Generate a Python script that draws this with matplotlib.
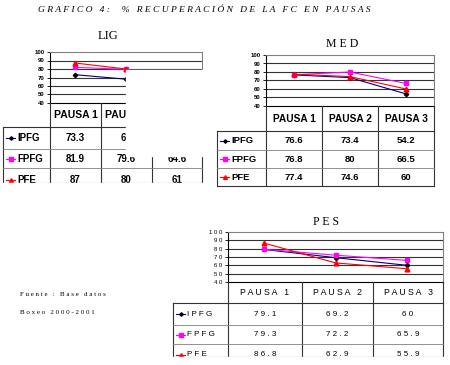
import numpy as np
import matplotlib
matplotlib.use('Agg')
import matplotlib.pyplot as plt
from matplotlib.patches import Rectangle

W, H = 450, 365

pausas = ['PAUSA 1', 'PAUSA 2', 'PAUSA 3']
series = ['IPFG', 'FPFG', 'PFE']
yticks = [40, 50, 60, 70, 80, 90, 100]

# LIG (the IPFG cell of pausa 3 is cut off in the source)
lig_ipfg = [73.3, 68, np.nan]
lig_fpfg = [81.9, 79.6, 64.6]
lig_pfe = [87, 80, 61]

med_ipfg = [76.6, 73.4, 54.2]
med_fpfg = [76.8, 80, 66.5]
med_pfe = [77.4, 74.6, 60]

pes_ipfg = [79.1, 69.2, 60]
pes_fpfg = [79.3, 72.2, 65.9]
pes_pfe = [86.8, 62.9, 55.9]

line_col = {'IPFG': '#000080', 'FPFG': '#ff00ff', 'PFE': '#ff0000'}
mark = {'IPFG': ('D', '#000000', 2.2), 'FPFG': ('s', '#ff00ff', 3.4), 'PFE': ('^', '#ff0000', 3.4)}
grid_c = '#333333'
sans = 'Liberation Sans'
serif = 'Liberation Serif'

fig = plt.figure(figsize=(W/100, H/100), dpi=100)
bg = fig.add_axes([0, 0, 1, 1])
bg.set_xlim(0, W)
bg.set_ylim(H, 0)
bg.axis('off')
bg.set_zorder(5)


def sp(s):
    return ' '.join(s)


def chart(box, vals, npts, tfs, tweight, spaced=False):
    x0, y0, x1, y1 = box
    ax = fig.add_axes([x0/W, 1-y1/H, (x1-x0)/W, (y1-y0)/H])
    ax.set_xlim(-0.5, 2.5)
    ax.set_ylim(40, 100)
    for yv in yticks[1:-1]:
        ax.axhline(yv, color=grid_c, lw=0.8, zorder=1)
    for name, v in zip(series, vals):
        m, c, s = mark[name]
        ax.plot(range(npts), v[:npts], color=line_col[name], lw=0.8, marker=m,
                mfc=c, mec=c, ms=s, zorder=3, clip_on=False)
    ax.set_xticks([])
    ax.set_yticks(yticks)
    labs = [sp(str(t)) if spaced else str(t) for t in yticks]
    ax.set_yticklabels(labs, fontsize=tfs, fontweight=tweight, family=sans)
    ax.tick_params(axis='y', length=2, width=0.6, pad=2)
    ax.spines['left'].set_color('#000000')
    ax.spines['bottom'].set_color('#000000')
    for s in ('top', 'right'):
        ax.spines[s].set_color('#808080')
    for s in ax.spines.values():
        s.set_linewidth(0.8)
    return ax


def table(cols, rows, vals, fs, weight, spaced=False, cut=None):
    c = cols
    top, hb = rows[0], rows[1]
    bot = rows[-1] if cut is None else cut
    lc = '#333333'
    # vertical lines
    bg.plot([c[0], c[0]], [hb, bot], color=lc, lw=0.8)
    for xv in c[1:]:
        bg.plot([xv, xv], [top, bot], color=lc, lw=0.8)
    # horizontal lines
    bg.plot([c[0], c[-1]], [hb, hb], color=lc, lw=0.8)
    for yv in rows[2:-1]:
        bg.plot([c[0], c[-1]], [yv, yv], color='#808080', lw=0.6)
    bg.plot([c[0], c[-1]], [bot, bot], color=lc, lw=0.8)
    # header
    for i, p in enumerate(pausas):
        xc = (c[i+1] + c[i+2]) / 2
        bg.text(xc, (top + hb) / 2, sp(p) if spaced else p, ha='center', va='center',
                fontsize=fs + 0.5, fontweight=weight, family=sans, zorder=3)
    # rows
    for r, (name, v) in enumerate(zip(series, vals)):
        yc = (rows[r+1] + rows[r+2]) / 2
        m, mc, ms = mark[name]
        bg.plot([c[0] + 3, c[0] + 12], [yc, yc], color=line_col[name], lw=0.8)
        bg.plot([c[0] + 7.5], [yc], marker=m, mfc=mc, mec=mc, ms=ms * 0.8)
        bg.text(c[0] + 14, yc, sp(name) if spaced else name, ha='left', va='center',
                fontsize=fs, fontweight=weight, family=sans, zorder=3)
        for i, val in enumerate(v):
            if np.isnan(val):
                continue
            t = f'{val:g}'
            bg.text((c[i+1] + c[i+2]) / 2, yc, sp(t) if spaced else t, ha='center',
                    va='center', fontsize=fs, fontweight=weight, family=sans, zorder=3)
    if cut is not None:
        bg.add_patch(Rectangle((c[0] - 5, cut + 0.6), c[-1] - c[0] + 10, 12,
                               color='white', zorder=8))


# LIG
chart((50, 52, 202, 103), [lig_ipfg, lig_fpfg, lig_pfe], 2, 4.3, 'bold')
table([3, 50, 101, 152, 202], [103, 127, 149, 168, 192], [lig_ipfg, lig_fpfg, lig_pfe],
      7, 'bold', cut=182.5)
bg.add_patch(Rectangle((125.5, 70.2), 82, 86, color='white', zorder=9))
bg.text(108, 36, 'LIG', ha='center', va='center', fontsize=9, family=serif)

# MED
chart((266, 55, 434, 106), [med_ipfg, med_fpfg, med_pfe], 3, 4.3, 'bold')
table([217, 266, 322, 378, 434], [106, 131, 150, 168, 186], [med_ipfg, med_fpfg, med_pfe],
      6.8, 'bold')
bg.text(342, 44, 'M E D', ha='center', va='center', fontsize=8.5, family=serif)

# PES
chart((228, 232, 443, 282), [pes_ipfg, pes_fpfg, pes_pfe], 3, 4.3, 'normal', spaced=True)
table([173, 228, 302, 373, 443], [282, 303, 325, 344, 366], [pes_ipfg, pes_fpfg, pes_pfe],
      5.8, 'normal', spaced=True, cut=356.5)
bg.text(326, 222, 'P E S', ha='center', va='center', fontsize=8.5, family=serif)

# titles and notes
bg.text(38, 10.5, sp('GRAFICO 4:') + '     ' + sp('% RECUPERACIÓN DE LA FC') + '   ' + sp('EN')
        + '   ' + sp('PAUSAS'), ha='left', va='center', fontsize=6.8, family=serif, style='italic')
bg.text(20, 294, sp('Fuente : Base datos'), ha='left', va='center', fontsize=5.0, family=serif)
bg.text(20, 313, sp('Boxeo 2000-2001'), ha='left', va='center', fontsize=5.0, family=serif)

fig.savefig('out.png', dpi=100, facecolor='white')
